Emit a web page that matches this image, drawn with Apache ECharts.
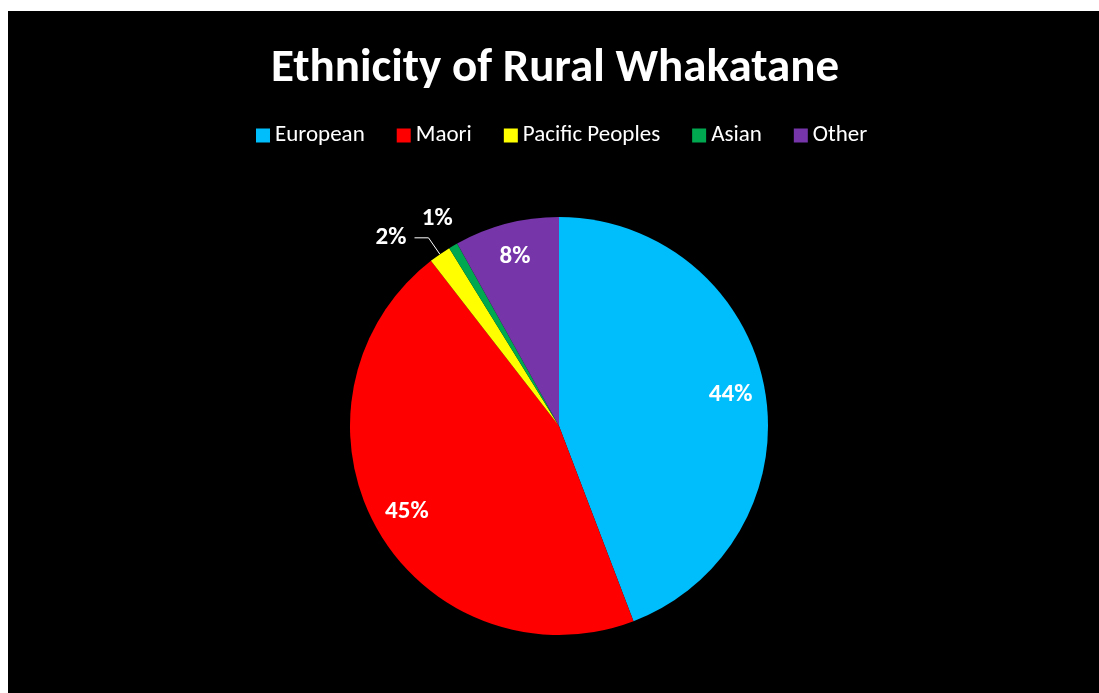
<!DOCTYPE html>
<html>
<head>
<meta charset="utf-8">
<title>Ethnicity of Rural Whakatane</title>
<script src="https://cdn.jsdelivr.net/npm/echarts@6/dist/echarts.min.js"></script>
<style>
  html, body { margin: 0; padding: 0; background: #ffffff; }
  #chart { position: absolute; left: 8px; top: 11px; width: 1091px; height: 682px; background: #000000; }
</style>
</head>
<body>
<div id="chart"></div>
<script>
// Share of residents by ethnic group (percent)
const categories = ['European', 'Maori', 'Pacific Peoples', 'Asian', 'Other'];
const shares = [44.2, 45.3, 1.7, 0.7, 8.1];
const sliceColors = ['#00BEFB', '#FF0000', '#FFFF00', '#00A850', '#7636AA'];

// Which groups get their percentage written inside, beside, or with a leader line
const insideLabels = ['European', 'Maori', 'Other'];
const besideLabels = ['Asian'];
const leaderLabels = ['Pacific Peoples'];

const FONT = 'Carlito, Lato, sans-serif';
const CENTER = [551, 415];
const R = 209;

const labelText = {
  color: '#ffffff',
  fontFamily: FONT,
  fontWeight: 'bold',
  fontSize: 25,
  formatter: '{d}%'
};

function slices(withLabel) {
  return categories.map((name, i) => {
    const item = { name: name, value: shares[i] };
    item.label = Object.assign({}, labelText, { show: withLabel(name) });
    return item;
  });
}

const chart = echarts.init(document.getElementById('chart'), null, { renderer: 'canvas' });

chart.setOption({
  animation: false,
  backgroundColor: '#000000',
  color: sliceColors,
  title: {
    text: 'Ethnicity of Rural Whakatane',
    left: 258,
    top: 30,
    textStyle: {
      color: '#ffffff',
      fontFamily: FONT,
      fontWeight: 'bold',
      fontSize: 47
    }
  },
  legend: {
    data: categories,
    left: 243,
    top: 108,
    icon: 'rect',
    itemWidth: 14,
    itemHeight: 14,
    itemGap: 32,
    textStyle: { color: '#ffffff', fontFamily: FONT, fontSize: 23 }
  },
  series: [
    {
      // the pie itself, with the leader-line label for the thin slice
      type: 'pie',
      center: CENTER,
      radius: [0, R],
      startAngle: 90,
      clockwise: true,
      percentPrecision: 0,
      avoidLabelOverlap: false,
      emphasis: { scale: false },
      itemStyle: { borderWidth: 0 },
      label: Object.assign({}, labelText, { position: 'outside', distanceToLabelLine: 8 }),
      labelLine: {
        show: true,
        length: 20,
        length2: 14,
        smooth: false,
        lineStyle: { color: '#ffffff', width: 1 }
      },
      data: slices(name => leaderLabels.includes(name))
    },
    {
      // percentages placed inside the large slices
      type: 'pie',
      center: CENTER,
      radius: [134, R],
      startAngle: 90,
      clockwise: true,
      percentPrecision: 0,
      silent: true,
      avoidLabelOverlap: false,
      itemStyle: { color: 'rgba(0,0,0,0)' },
      label: Object.assign({}, labelText, { position: 'inside' }),
      labelLine: { show: false },
      data: slices(name => insideLabels.includes(name))
    },
    {
      // percentage written just beyond the rim, without a line
      type: 'pie',
      center: CENTER,
      radius: [R, 266],
      startAngle: 90,
      clockwise: true,
      percentPrecision: 0,
      silent: true,
      avoidLabelOverlap: false,
      itemStyle: { color: 'rgba(0,0,0,0)' },
      label: Object.assign({}, labelText, { position: 'inside' }),
      labelLine: { show: false },
      data: slices(name => besideLabels.includes(name))
    }
  ]
});
</script>
</body>
</html>
